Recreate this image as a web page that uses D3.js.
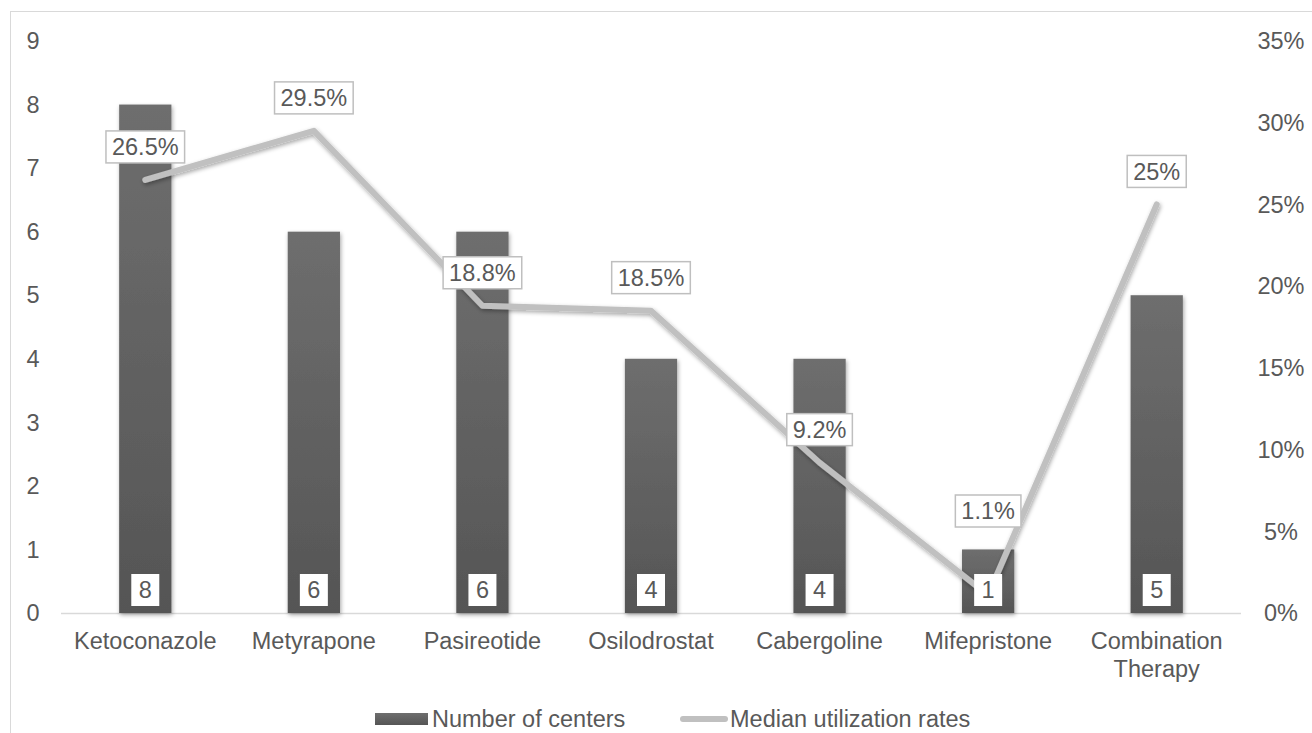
<!DOCTYPE html>
<html lang="en">
<head>
    <meta charset="UTF-8">
    <title>Centers and utilization</title>
    <style>
        body {
            margin: 0;
            padding: 0;
            background-color: #ffffff;
            font-family: 'Liberation Sans', Arial, sans-serif;
        }
        svg text {
            fill: #595959;
            font-size: 23.5px;
        }
    </style>
</head>
<body>
    <svg id="chart" width="1312" height="733"></svg>
    <script src="https://d3js.org/d3.v7.min.js"></script>
    <script>
        const categories = ["Ketoconazole", "Metyrapone", "Pasireotide", "Osilodrostat", "Cabergoline", "Mifepristone", "Combination Therapy"];
        const centers = [8, 6, 6, 4, 4, 1, 5];
        const utilization = [26.5, 29.5, 18.8, 18.5, 9.2, 1.1, 25];
        const utilizationLabels = ["26.5%", "29.5%", "18.8%", "18.5%", "9.2%", "1.1%", "25%"];
        const leftTicks = [0, 1, 2, 3, 4, 5, 6, 7, 8, 9];
        const rightTicks = [0, 5, 10, 15, 20, 25, 30, 35];

        const svg = d3.select("#chart");
        const plot = {left: 61, right: 1241, top: 41, bottom: 613};

        // drop shadows like the office chart
        const defs = svg.append("defs");
        defs.append("filter").attr("id", "shadow").attr("x", "-20%").attr("y", "-20%").attr("width", "140%").attr("height", "140%")
            .append("feDropShadow").attr("dx", 1).attr("dy", 2).attr("stdDeviation", 2).attr("flood-color", "#000").attr("flood-opacity", 0.35);
        const grad = defs.append("linearGradient").attr("id", "barGrad").attr("x1", 0).attr("y1", 0).attr("x2", 0).attr("y2", 1);
        grad.append("stop").attr("offset", "0%").attr("stop-color", "#6e6e6e");
        grad.append("stop").attr("offset", "100%").attr("stop-color", "#555555");

        // outer frame
        svg.append("rect")
            .attr("x", 10.5).attr("y", 11.5).attr("width", 1320).attr("height", 740)
            .attr("fill", "none").attr("stroke", "#d9d9d9").attr("stroke-width", 1);

        const x = d3.scaleBand().domain(categories).range([plot.left, plot.right]).paddingInner(0.69).paddingOuter(0.345);
        const yLeft = d3.scaleLinear().domain([0, 9]).range([plot.bottom, plot.top]);
        const yRight = d3.scaleLinear().domain([0, 35]).range([plot.bottom, plot.top]);

        // tick labels
        svg.append("g").selectAll("text").data(leftTicks).enter().append("text")
            .attr("x", 33).attr("y", d => yLeft(d)).attr("dy", "0.35em")
            .attr("text-anchor", "middle").text(d => d);
        svg.append("g").selectAll("text").data(rightTicks).enter().append("text")
            .attr("x", 1281).attr("y", d => yRight(d)).attr("dy", "0.35em")
            .attr("text-anchor", "middle").text(d => d + "%");

        // baseline
        svg.append("line")
            .attr("x1", plot.left).attr("x2", plot.right)
            .attr("y1", plot.bottom + 0.5).attr("y2", plot.bottom + 0.5)
            .attr("stroke", "#d9d9d9").attr("stroke-width", 1.5);

        // bars
        svg.append("g").selectAll("rect").data(categories).enter().append("rect")
            .attr("x", d => x(d))
            .attr("y", (d, i) => yLeft(centers[i]))
            .attr("width", x.bandwidth())
            .attr("height", (d, i) => yLeft(0) - yLeft(centers[i]))
            .attr("fill", "url(#barGrad)")
            .attr("filter", "url(#shadow)");

        // line
        const cx = d => x(d) + x.bandwidth() / 2;
        const lineGen = d3.line().x(d => cx(d)).y((d, i) => yRight(utilization[i]));
        svg.append("path")
            .datum(categories)
            .attr("d", lineGen)
            .attr("fill", "none")
            .attr("stroke", "#c0c0c0")
            .attr("stroke-width", 6)
            .attr("stroke-linecap", "round")
            .attr("stroke-linejoin", "round")
            .attr("filter", "url(#shadow)");

        // bar value labels
        const barLab = svg.append("g");
        categories.forEach((c, i) => {
            const g = barLab.append("g").attr("transform", `translate(${cx(c)},${yLeft(0) - 23})`);
            g.append("rect").attr("x", -14).attr("y", -16).attr("width", 28).attr("height", 32).attr("fill", "#ffffff");
            g.append("text").attr("text-anchor", "middle").attr("dy", "0.35em").text(centers[i]);
        });

        // line value labels
        const lineLab = svg.append("g");
        categories.forEach((c, i) => {
            const py = yRight(utilization[i]);
            const ly = Math.min(py - 33, yLeft(0) - 102);
            const g = lineLab.append("g").attr("transform", `translate(${cx(c)},${ly})`);
            const t = g.append("text").attr("text-anchor", "middle").attr("dy", "0.35em").text(utilizationLabels[i]);
            const w = t.node().getComputedTextLength() + 12;
            g.insert("rect", "text").attr("x", -w / 2).attr("y", -16).attr("width", w).attr("height", 32)
                .attr("fill", "#ffffff").attr("stroke", "#bfbfbf").attr("stroke-width", 1.5);
        });

        // category labels
        svg.append("g").selectAll("text").data(categories).enter().append("text")
            .attr("x", d => cx(d)).attr("y", 641).attr("dy", "0.35em")
            .attr("text-anchor", "middle")
            .each(function(d) {
                const words = d.split(" ");
                const el = d3.select(this);
                if (words.length > 1) {
                    words.forEach((w, k) => el.append("tspan").attr("x", cx(d)).attr("dy", k === 0 ? "0.35em" : "1.2em").text(w));
                    el.attr("dy", null);
                } else {
                    el.text(d);
                }
            });

        // legend
        const leg = svg.append("g");
        leg.append("rect").attr("x", 375).attr("y", 713).attr("width", 53).attr("height", 12).attr("fill", "url(#barGrad)");
        leg.append("text").attr("x", 432).attr("y", 719).attr("dy", "0.35em").text("Number of centers");
        leg.append("line").attr("x1", 683).attr("x2", 725).attr("y1", 719).attr("y2", 719)
            .attr("stroke", "#c0c0c0").attr("stroke-width", 6).attr("stroke-linecap", "round");
        leg.append("text").attr("x", 730).attr("y", 719).attr("dy", "0.35em").text("Median utilization rates");
    </script>
</body>
</html>
